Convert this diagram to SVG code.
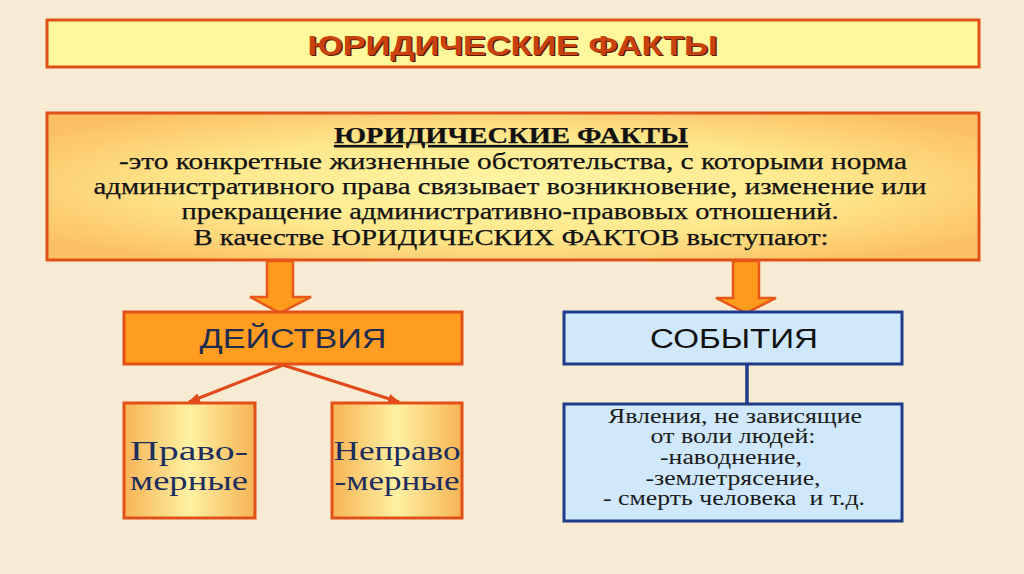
<svg xmlns="http://www.w3.org/2000/svg" width="1024" height="574" viewBox="0 0 1024 574">
<defs>
<style>
.ob{stroke:#e2501a;stroke-width:3}
.bb{stroke:#1f3c8c;stroke-width:3}
.serif{font-family:"Liberation Serif","Times New Roman",serif}
.sans{font-family:"Liberation Sans",Arial,sans-serif}
.def{font-size:23px;fill:#111;text-anchor:middle;stroke:#111;stroke-width:0.25}
.small{fill:#1c2d5e;text-anchor:middle;font-size:27px}
.ev{font-size:20.5px;fill:#1a1a1a;text-anchor:middle}
</style>
<filter id="paper" x="0" y="0" width="1" height="1">
<feTurbulence type="fractalNoise" baseFrequency="0.012 0.02" numOctaves="4" seed="7" result="n"/>
<feColorMatrix in="n" type="matrix" values="0 0 0 0 0.93  0 0 0 0 0.84  0 0 0 0 0.66  0.7 0 0 0 -0.22"/>
</filter>
<radialGradient id="gDef" cx="0.5" cy="0.5" r="0.62">
<stop offset="0" stop-color="#fff6a6"/>
<stop offset="0.55" stop-color="#ffe88c"/>
<stop offset="1" stop-color="#fbc063"/>
</radialGradient>
<linearGradient id="gSmall" x1="0" y1="0" x2="1" y2="0">
<stop offset="0" stop-color="#f6b455"/>
<stop offset="0.5" stop-color="#fff1a2"/>
<stop offset="1" stop-color="#f6b455"/>
</linearGradient>
<marker id="ah" markerUnits="userSpaceOnUse" markerWidth="12" markerHeight="10" refX="11" refY="5" orient="auto">
<path d="M0,0 L12,5 L0,10 Z" fill="#e2481a"/>
</marker>
</defs>

<rect width="1024" height="574" fill="#f7ecd3"/>
<rect width="1024" height="574" filter="url(#paper)"/>

<g id="title">
<rect x="47" y="20" width="932" height="47" fill="#fff79c" class="ob"/>
<text x="514" y="56" class="sans" font-size="28" font-weight="bold" text-anchor="middle" fill="#5e1a04" textLength="410" lengthAdjust="spacingAndGlyphs">ЮРИДИЧЕСКИЕ ФАКТЫ</text>
<text x="512.5" y="54.5" class="sans" font-size="28" font-weight="bold" text-anchor="middle" fill="#c9420e" textLength="410" lengthAdjust="spacingAndGlyphs">ЮРИДИЧЕСКИЕ ФАКТЫ</text>
</g>

<g id="definition">
<rect x="47" y="113" width="932" height="147" fill="url(#gDef)" class="ob"/>
<text x="511" y="143" class="serif def" font-weight="bold" text-decoration="underline" textLength="354" lengthAdjust="spacingAndGlyphs">ЮРИДИЧЕСКИЕ ФАКТЫ</text>
<text x="513" y="169" class="serif def" textLength="788" lengthAdjust="spacingAndGlyphs">-это конкретные жизненные обстоятельства, с которыми норма</text>
<text x="510" y="194" class="serif def" textLength="833" lengthAdjust="spacingAndGlyphs">административного права связывает возникновение, изменение или</text>
<text x="510" y="219" class="serif def" textLength="657" lengthAdjust="spacingAndGlyphs">прекращение административно-правовых отношений.</text>
<text x="511" y="245" class="serif def" textLength="635" lengthAdjust="spacingAndGlyphs">В качестве ЮРИДИЧЕСКИХ ФАКТОВ выступают:</text>
</g>

<g id="connectors">
<path d="M267,261 L293,261 L293,297 L311,297 L280,313 L250,297 L267,297 Z" fill="#ff9b1c" stroke="#e8561a" stroke-width="2.5" stroke-linejoin="miter"/>
<path d="M733,261 L759,261 L759,298 L776,298 L746,313 L716,298 L733,298 Z" fill="#ff9b1c" stroke="#e8561a" stroke-width="2.5" stroke-linejoin="miter"/>
<line x1="283" y1="365" x2="189" y2="402" stroke="#e2481a" stroke-width="3" marker-end="url(#ah)"/>
<line x1="283" y1="365" x2="399" y2="402" stroke="#e2481a" stroke-width="3" marker-end="url(#ah)"/>
<line x1="747" y1="364" x2="747" y2="404" stroke="#1f3c8c" stroke-width="3.5"/>
</g>

<g id="actions">
<rect x="124" y="312" width="338" height="52" fill="#ff9d20" class="ob"/>
<text x="293" y="348" class="sans" font-size="27" fill="#1e2b4f" text-anchor="middle" textLength="187" lengthAdjust="spacingAndGlyphs">ДЕЙСТВИЯ</text>
</g>

<g id="events">
<rect x="564" y="312" width="338" height="52" fill="#cfe8fb" class="bb"/>
<text x="734" y="348" class="sans" font-size="27" fill="#111" text-anchor="middle" textLength="168" lengthAdjust="spacingAndGlyphs">СОБЫТИЯ</text>
</g>

<g id="lawful">
<rect x="124" y="403" width="131" height="115" fill="url(#gSmall)" class="ob"/>
<text x="189" y="460" class="serif small" textLength="118" lengthAdjust="spacingAndGlyphs">Право-</text>
<text x="189" y="490" class="serif small" textLength="118" lengthAdjust="spacingAndGlyphs">мерные</text>
</g>

<g id="unlawful">
<rect x="332" y="403" width="130" height="115" fill="url(#gSmall)" class="ob"/>
<text x="397" y="460" class="serif small" textLength="127" lengthAdjust="spacingAndGlyphs">Неправо</text>
<text x="397" y="490" class="serif small" textLength="125" lengthAdjust="spacingAndGlyphs">-мерные</text>
</g>

<g id="events-desc">
<rect x="564" y="404" width="338" height="117" fill="#cfe8fb" class="bb"/>
<text x="735" y="423" class="serif ev" textLength="254" lengthAdjust="spacingAndGlyphs">Явления, не зависящие</text>
<text x="733" y="443" class="serif ev" textLength="165" lengthAdjust="spacingAndGlyphs">от воли людей:</text>
<text x="731" y="464" class="serif ev" textLength="142" lengthAdjust="spacingAndGlyphs">-наводнение,</text>
<text x="733" y="485" class="serif ev" textLength="175" lengthAdjust="spacingAndGlyphs">-землетрясение,</text>
<text x="734" y="505" class="serif ev" xml:space="preserve" textLength="262" lengthAdjust="spacingAndGlyphs">- смерть человека  и т.д.</text>
</g>
</svg>
